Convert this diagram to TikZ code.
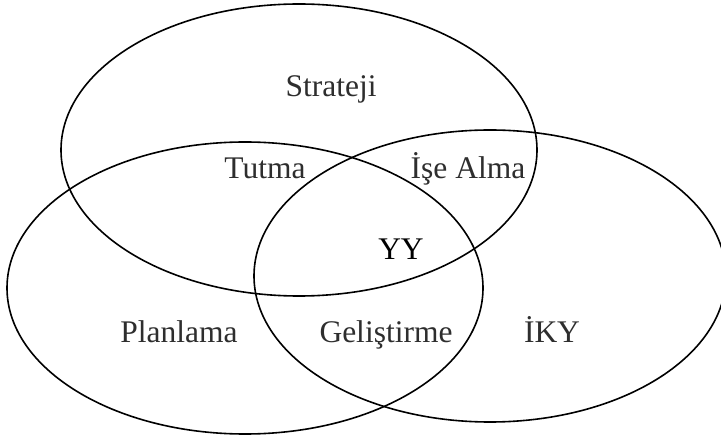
\documentclass[tikz,border=0pt]{standalone}
\usepackage{fontspec}
\setmainfont{Liberation Serif}
\begin{document}
\begin{tikzpicture}[x=1pt,y=-1pt,
  ring/.style={draw=black,line width=1.6pt},
  lbl/.style={anchor=base,inner sep=0pt,text=black!82,font=\fontsize{31.5}{36}\selectfont},
  lblk/.style={lbl,text=black}]
\useasboundingbox (0,0) rectangle (721,438);
\begin{scope}
\clip (0,0) rectangle (721,438);
\draw[ring] (299,150) ellipse [x radius=238, y radius=146];
\draw[ring] (245,288) ellipse [x radius=238, y radius=146];
\draw[ring] (490,276) ellipse [x radius=236, y radius=146];
\end{scope}
\node[lbl] (strateji) at (331,97) {Strateji};
\node[lbl] (tutma) at (265,179) {Tutma};
\node[lbl] (ise) at (468,179) {İşe Alma};
\node[lblk] (yy) at (401,260) {YY};
\node[lbl] (plan) at (179,343) {Planlama};
\node[lbl] (gel) at (386,343) {Geliştirme};
\node[lbl] (iky) at (552,343) {İKY};
\end{tikzpicture}
\end{document}
